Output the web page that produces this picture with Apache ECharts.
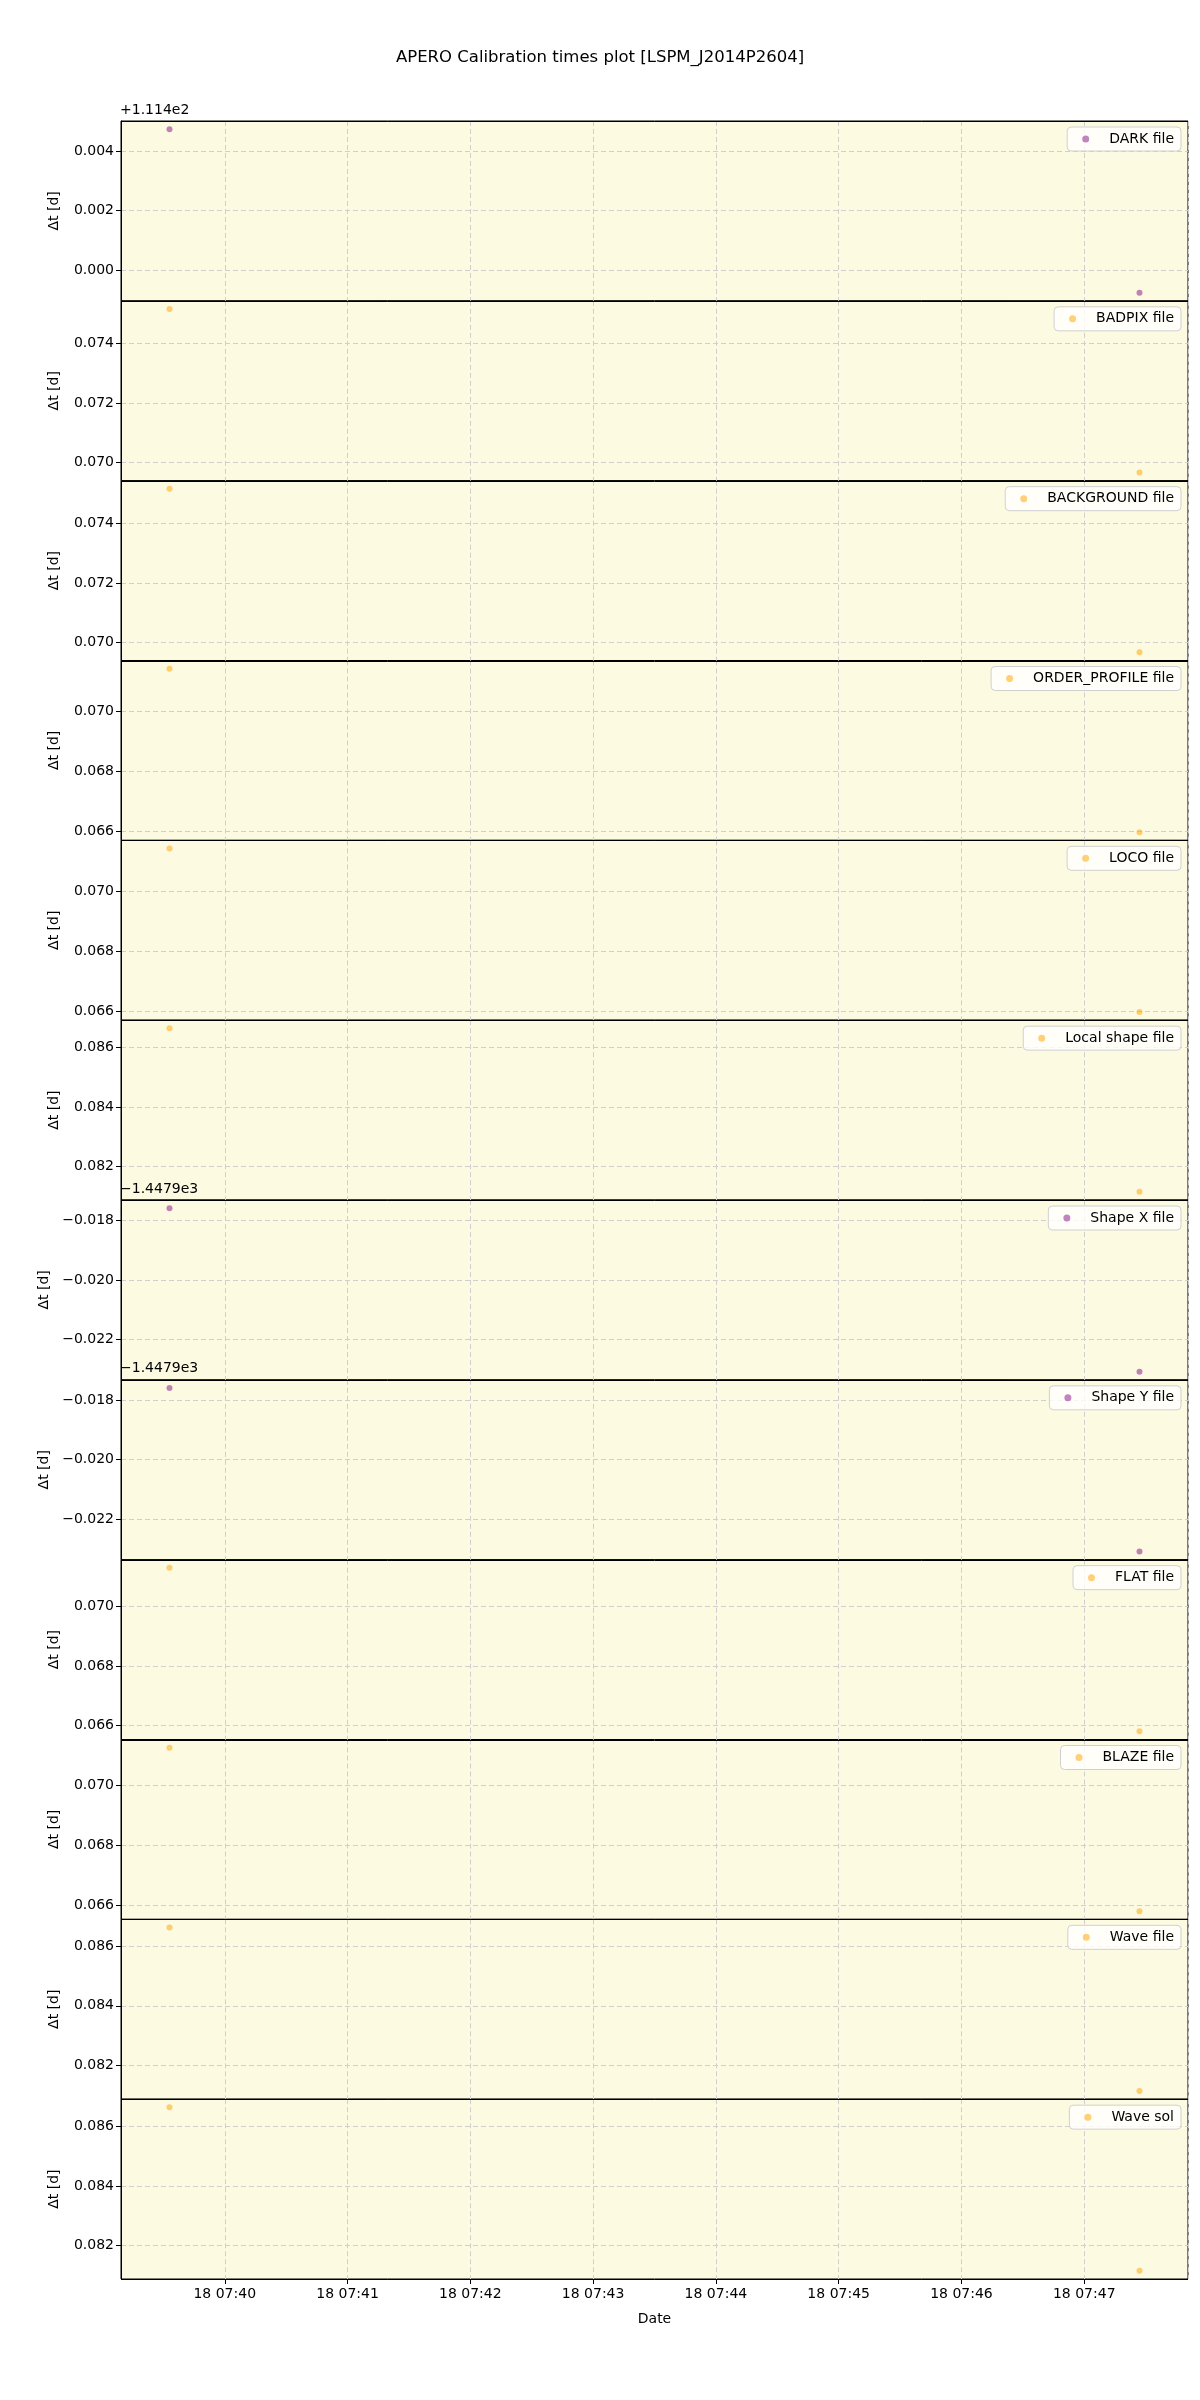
<!DOCTYPE html>
<html>
<head>
<meta charset="utf-8">
<script src="https://cdn.jsdelivr.net/npm/echarts@6/dist/echarts.min.js"></script>
<style>
html,body{margin:0;padding:0;background:#fff;}
#main{width:1200px;height:2400px;}
</style>
</head>
<body>
<div id="main"></div>
<script>
// ---- data ----
var titleText = 'APERO Calibration times plot [LSPM_J2014P2604]';
var names = ['DARK file','BADPIX file','BACKGROUND file','ORDER_PROFILE file','LOCO file','Local shape file','Shape X file','Shape Y file','FLAT file','BLAZE file','Wave file','Wave sol'];
var kinds = ['purple','orange','orange','orange','orange','orange','purple','purple','orange','orange','orange','orange'];
// observation times (day 18, 07:39:33 and 07:47:27)
var times = [new Date(2023,5,18,7,39,33).getTime(), new Date(2023,5,18,7,47,27).getTime()];
// delta t values [d] per file type
var darkVals       = [111.40474, 111.39924];
var badpixVals     = [0.07516, 0.06966];
var backgroundVals = [0.07517, 0.06967];
var orderVals      = [0.07143, 0.06597];
var locoVals       = [0.07143, 0.06598];
var localShapeVals = [0.08663, 0.08116];
var shapeXVals     = [-1447.91760, -1447.92307];
var shapeYVals     = [-1447.91760, -1447.92307];
var flatVals       = [0.07128, 0.06581];
var blazeVals      = [0.07126, 0.06581];
var waveFileVals   = [0.08664, 0.08113];
var waveSolVals    = [0.08664, 0.08115];
var allVals = [darkVals,badpixVals,backgroundVals,orderVals,locoVals,localShapeVals,shapeXVals,shapeYVals,flatVals,blazeVals,waveFileVals,waveSolVals];
// y-axis offsets and offset texts
var offsets     = [111.4, 0, 0, 0, 0, 0, -1447.9, -1447.9, 0, 0, 0, 0];
var offsetTexts = ['+1.114e2','','','','','','\u22121.4479e3','\u22121.4479e3','','','',''];
var yTickStep = 0.002;

(function(){
var FONT = 'DejaVu Sans';
var FS = 14;
var colors = {purple:'rgba(128,0,128,0.6)', orange:'rgba(255,165,0,0.65)'};
var left = 121, right = 12, top0 = 121, bottomEdge = 2279;
var n = names.length;
var ph = (bottomEdge - top0) / n;
var pad = function(v){ return (v<10?'0':'')+v; };
var xSpan = times[1]-times[0];
var xMin = times[0]-0.05*xSpan, xMax = times[1]+0.05*xSpan;
function fmtY(v){ var s = v.toFixed(3); if (s === '-0.000') s = '0.000'; return s.replace('-', '\u2212'); }

function build(edgeOpt){
var grids=[], xAxes=[], yAxes=[], series=[], legends=[], graphics=[];
for (var i=0;i<n;i++){
  var top = top0 + i*ph;
  var vals = allVals[i];
  var lo = Math.min.apply(null, vals), hi = Math.max.apply(null, vals);
  var span = hi-lo;
  var off = offsets[i];
  var last = (i===n-1);
  grids.push({left:left, right:right, top:top, height:ph, show:true, backgroundColor:'#fcfae1', borderColor:'#000', borderWidth:1});
  var xs = {show:true, lineStyle:{type:[5,3], color:'#cfcfcf', width:1}};
  var ys = {show:true, lineStyle:{type:[5,3], color:'#cfcfcf', width:1}};
  if (edgeOpt) { ys.showMinLine = false; ys.showMaxLine = false; }
  xAxes.push({
    type:'time', gridIndex:i, min:xMin, max:xMax, splitNumber:8,
    axisLine:{show:false},
    axisTick:{show:last, length:5, lineStyle:{color:'#000'}},
    axisLabel:{show:last, fontFamily:FONT, fontSize:FS, color:'#000', margin:8, showMinLabel:false, showMaxLabel:false,
      formatter:function(val){ var d=new Date(val); return d.getDate()+' '+pad(d.getHours())+':'+pad(d.getMinutes()); }},
    splitLine:xs,
    name: last ? 'Date' : '', nameLocation:'middle', nameGap:33,
    nameTextStyle:{fontFamily:FONT, fontSize:FS, color:'#000'}
  });
  (function(off){
  yAxes.push({
    type:'value', gridIndex:i, min:lo-0.05*span, max:hi+0.05*span,
    minInterval:yTickStep, maxInterval:yTickStep,
    axisLine:{show:true, lineStyle:{color:'#000'}},
    axisTick:{show:true, length:5, lineStyle:{color:'#000'}},
    axisLabel:{fontFamily:FONT, fontSize:FS, color:'#000', margin:7, showMinLabel:false, showMaxLabel:false,
      formatter:function(val){ return fmtY(val - off); }},
    splitLine:ys,
    name:'\u0394t [d]', nameLocation:'middle', nameGap: off < 0 ? 70 : 60,
    nameTextStyle:{fontFamily:FONT, fontSize:FS, color:'#000'}
  });
  })(off);
  series.push({
    type:'scatter', name:names[i], xAxisIndex:i, yAxisIndex:i, z:5,
    data: times.map(function(t,j){ return [t, vals[j]]; }),
    symbol:'circle', symbolSize:6,
    itemStyle:{color:colors[kinds[i]]}
  });
  legends.push({
    data:[names[i]], right:19, top:top+6,
    icon:'circle', itemWidth:7, itemHeight:7,
    backgroundColor:'rgba(255,255,255,0.8)', borderColor:'#d0d0d0', borderWidth:1, borderRadius:4,
    padding:[5,7,5,15], selectedMode:false,
    textStyle:{fontFamily:FONT, fontSize:FS, color:'#000', padding:[0,0,0,15]}
  });
  if (offsetTexts[i]) {
    graphics.push({type:'text', left:left-1, top:top-18, style:{text:offsetTexts[i], font:FS+'px "DejaVu Sans"', fill:'#000'}});
  }
}
// solid separators between panels (drawn over the dashed edge grid lines)
for (var k=0;k<=n;k++){
  graphics.push({type:'line', z:100, shape:{x1:left, y1:Math.round(top0+k*ph)+0.5, x2:1200-right, y2:Math.round(top0+k*ph)+0.5}, style:{stroke:'#000', lineWidth:1}});
}
return {
  animation:false, backgroundColor:'#ffffff',
  title:{text:titleText, left:'center', top:44, textStyle:{fontFamily:FONT, fontSize:16.5, fontWeight:'normal', color:'#000'}},
  grid:grids, xAxis:xAxes, yAxis:yAxes, series:series, legend:legends, graphic:graphics
};
}
var el = document.getElementById('main');
try {
  var inst = echarts.init(el);
  inst.setOption(build(true));
} catch (e) {
  try { echarts.dispose(el); } catch (e2) {}
  var inst2 = echarts.init(el);
  inst2.setOption(build(false));
}
})();
</script>
</body>
</html>
